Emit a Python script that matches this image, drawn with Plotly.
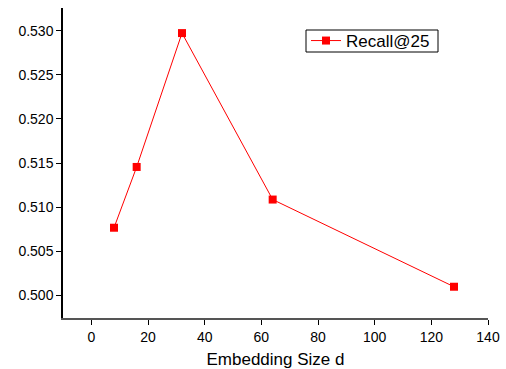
import plotly.graph_objects as go

sizes = [8, 16, 32, 64, 128]
recall = [0.50765, 0.51455, 0.52975, 0.51085, 0.50095]
x_ticks = [0, 20, 40, 60, 80, 100, 120, 140]
y_ticks = [0.500, 0.505, 0.510, 0.515, 0.520, 0.525, 0.530]

fig = go.Figure()
fig.add_trace(go.Scatter(
    x=sizes, y=recall, mode="lines+markers", name="Recall@25",
    line=dict(color="#ff0000", width=1),
    marker=dict(symbol="square", size=8, color="#ff0000"),
))
fig.update_layout(
    width=506, height=369,
    margin=dict(l=63, r=18, t=8, b=51),
    paper_bgcolor="white", plot_bgcolor="white",
    font=dict(family="Liberation Sans, Arial, sans-serif", size=14, color="black"),
    showlegend=True,
    legend=dict(
        x=(306 - 63) / 425, y=(318 - 41) / 310, xanchor="left", yanchor="middle",
        borderwidth=0, bgcolor="rgba(0,0,0,0)",
        font=dict(size=17), itemwidth=30,
        tracegroupgap=0,
    ),
    xaxis=dict(
        range=[-10, 140], tickvals=x_ticks, ticks="outside", ticklen=5,
        showline=True, linecolor="#555555", linewidth=2, showgrid=False,
        zeroline=False, tickcolor="black", automargin=False,
        title=dict(text="Embedding Size d", font=dict(size=17), standoff=9),
    ),
    yaxis=dict(
        range=[0.4974, 0.5326], tickvals=y_ticks, tickformat=".3f",
        ticks="outside", ticklen=5, showline=True, linecolor="black",
        linewidth=1.5, showgrid=False, zeroline=False, tickcolor="black",
        automargin=False,
    ),
)
fig.add_shape(
    type="rect", xref="paper", yref="paper",
    x0=(306 - 63) / 425, x1=(438 - 63) / 425,
    y0=(318 - 52) / 310, y1=(318 - 30) / 310,
    line=dict(color="black", width=1), fillcolor="rgba(0,0,0,0)", layer="above",
)
fig.write_html(
    "out.html",
    config={"displayModeBar": False},
    post_script="document.body.style.margin='0';document.body.style.padding='0';",
)
